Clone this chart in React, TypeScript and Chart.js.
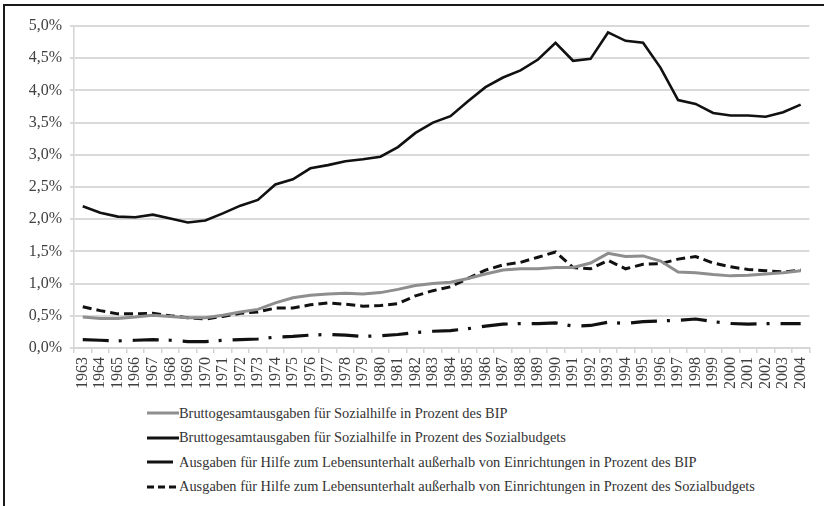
import React, { useEffect, useRef } from 'react';
import { Chart, registerables } from 'chart.js';

Chart.register(...registerables);

const years = [
  '1963', '1964', '1965', '1966', '1967', '1968', '1969', '1970', '1971', '1972',
  '1973', '1974', '1975', '1976', '1977', '1978', '1979', '1980', '1981', '1982',
  '1983', '1984', '1985', '1986', '1987', '1988', '1989', '1990', '1991', '1992',
  '1993', '1994', '1995', '1996', '1997', '1998', '1999', '2000', '2001', '2002',
  '2003', '2004',
];

// Bruttogesamtausgaben für Sozialhilfe in Prozent des BIP
const grossBip = [
  0.48, 0.46, 0.46, 0.48, 0.51, 0.49, 0.47, 0.47, 0.51, 0.56,
  0.60, 0.70, 0.78, 0.82, 0.84, 0.85, 0.84, 0.86, 0.91, 0.97,
  1.00, 1.02, 1.08, 1.15, 1.21, 1.23, 1.23, 1.25, 1.25, 1.32,
  1.47, 1.42, 1.43, 1.35, 1.18, 1.17, 1.14, 1.12, 1.13, 1.15,
  1.17, 1.20,
];

// Bruttogesamtausgaben für Sozialhilfe in Prozent des Sozialbudgets
const grossBudget = [
  2.20, 2.10, 2.04, 2.03, 2.07, 2.01, 1.95, 1.98, 2.09, 2.21,
  2.30, 2.54, 2.62, 2.79, 2.84, 2.90, 2.93, 2.97, 3.12, 3.34,
  3.50, 3.60, 3.83, 4.05, 4.20, 4.31, 4.48, 4.74, 4.46, 4.49,
  4.90, 4.77, 4.74, 4.35, 3.85, 3.79, 3.65, 3.61, 3.61, 3.59,
  3.66, 3.78,
];

// Ausgaben für HLU außerhalb von Einrichtungen in Prozent des BIP
const hluBip = [
  0.13, 0.12, 0.11, 0.12, 0.13, 0.12, 0.10, 0.10, 0.12, 0.13,
  0.14, 0.17, 0.18, 0.20, 0.21, 0.20, 0.18, 0.19, 0.21, 0.24,
  0.26, 0.27, 0.30, 0.34, 0.37, 0.38, 0.38, 0.39, 0.34, 0.35,
  0.40, 0.38, 0.41, 0.42, 0.43, 0.45, 0.41, 0.38, 0.37, 0.38,
  0.38, 0.38,
];

// Ausgaben für HLU außerhalb von Einrichtungen in Prozent des Sozialbudgets
const hluBudget = [
  0.64, 0.58, 0.53, 0.53, 0.54, 0.50, 0.47, 0.45, 0.49, 0.54,
  0.56, 0.62, 0.62, 0.67, 0.70, 0.68, 0.65, 0.66, 0.69, 0.81,
  0.89, 0.95, 1.08, 1.21, 1.29, 1.33, 1.41, 1.49, 1.25, 1.23,
  1.36, 1.23, 1.30, 1.31, 1.38, 1.42, 1.32, 1.26, 1.22, 1.20,
  1.18, 1.21,
];

const seriesNames = [
  'Bruttogesamtausgaben für Sozialhilfe in Prozent des BIP',
  'Bruttogesamtausgaben für Sozialhilfe in Prozent des Sozialbudgets',
  'Ausgaben für Hilfe zum Lebensunterhalt außerhalb von Einrichtungen in Prozent des BIP',
  'Ausgaben für Hilfe zum Lebensunterhalt außerhalb von Einrichtungen in Prozent des Sozialbudgets',
];

const FONT = '"Liberation Serif", "Times New Roman", serif';
const GRAY = '#8e8e8e';
const BLACK = '#111111';
const DASHDOT = [26, 10, 3, 11];
const DASHED = [9, 5];

export default function App() {
  const ref = useRef<HTMLCanvasElement>(null);

  useEffect(() => {
    const chart = new Chart(ref.current as HTMLCanvasElement, {
      type: 'line',
      data: {
        labels: years,
        datasets: [
          { label: seriesNames[0], data: grossBip, borderColor: GRAY, borderWidth: 3, pointRadius: 0, tension: 0, fill: false },
          { label: seriesNames[1], data: grossBudget, borderColor: BLACK, borderWidth: 2.6, pointRadius: 0, tension: 0, fill: false },
          { label: seriesNames[2], data: hluBip, borderColor: BLACK, borderWidth: 3.2, borderDash: DASHDOT, pointRadius: 0, tension: 0, fill: false },
          { label: seriesNames[3], data: hluBudget, borderColor: BLACK, borderWidth: 3, borderDash: DASHED, pointRadius: 0, tension: 0, fill: false },
        ],
      },
      options: {
        animation: false,
        responsive: false,
        maintainAspectRatio: false,
        layout: { padding: { top: 26, right: 11, left: 0, bottom: 0 } },
        plugins: { legend: { display: false }, tooltip: { enabled: false } },
        scales: {
          x: {
            offset: true,
            grid: { offset: true, drawOnChartArea: false, drawTicks: true, tickLength: 5, color: '#d4d4d4', lineWidth: 1.5 },
            border: { color: '#d4d4d4', width: 1.5 },
            ticks: {
              minRotation: 90,
              maxRotation: 90,
              autoSkip: false,
              padding: 4,
              color: '#404040',
              font: { family: FONT, size: 16 },
            },
            afterFit: (s: any) => { s.height = 52; },
          },
          y: {
            min: 0,
            max: 5,
            ticks: {
              stepSize: 0.5,
              padding: 8,
              color: '#404040',
              font: { family: FONT, size: 16 },
              callback: (v: any) => Number(v).toFixed(1).replace('.', ',') + '%',
            },
            grid: { color: '#dadada', lineWidth: 2, tickLength: 4 },
            border: { color: '#d4d4d4', width: 1.5 },
            afterFit: (s: any) => { s.width = 74; },
          },
        },
      },
    });
    return () => chart.destroy();
  }, []);

  const samples = [
    { color: GRAY, dash: undefined as string | undefined },
    { color: BLACK, dash: undefined },
    { color: BLACK, dash: DASHDOT.join(',') },
    { color: BLACK, dash: '7,4' },
  ];

  return (
    <div style={{ position: 'fixed', left: 0, top: 0, width: 824, height: 506, background: '#fff', overflow: 'hidden' }}>
      <div style={{ position: 'absolute', left: 3, top: 4, width: 900, height: 600, borderTop: '2px solid #1a1a1a', borderLeft: '2px solid #1a1a1a' }} />
      <canvas ref={ref} width={824} height={400} style={{ position: 'absolute', left: 0, top: 0, display: 'block' }} />
      <div style={{ position: 'absolute', left: 147, top: 401, fontFamily: FONT, fontSize: 14.4, color: '#333' }}>
        {seriesNames.map((n, i) => (
          <div key={n} style={{ display: 'flex', alignItems: 'center', height: 24.5, whiteSpace: 'nowrap' }}>
            <svg width={32} height={6} style={{ display: 'block' }}>
              <line x1={0} y1={3} x2={32} y2={3} stroke={samples[i].color} strokeWidth={3} strokeDasharray={samples[i].dash} />
            </svg>
            <span>{n}</span>
          </div>
        ))}
      </div>
    </div>
  );
}
